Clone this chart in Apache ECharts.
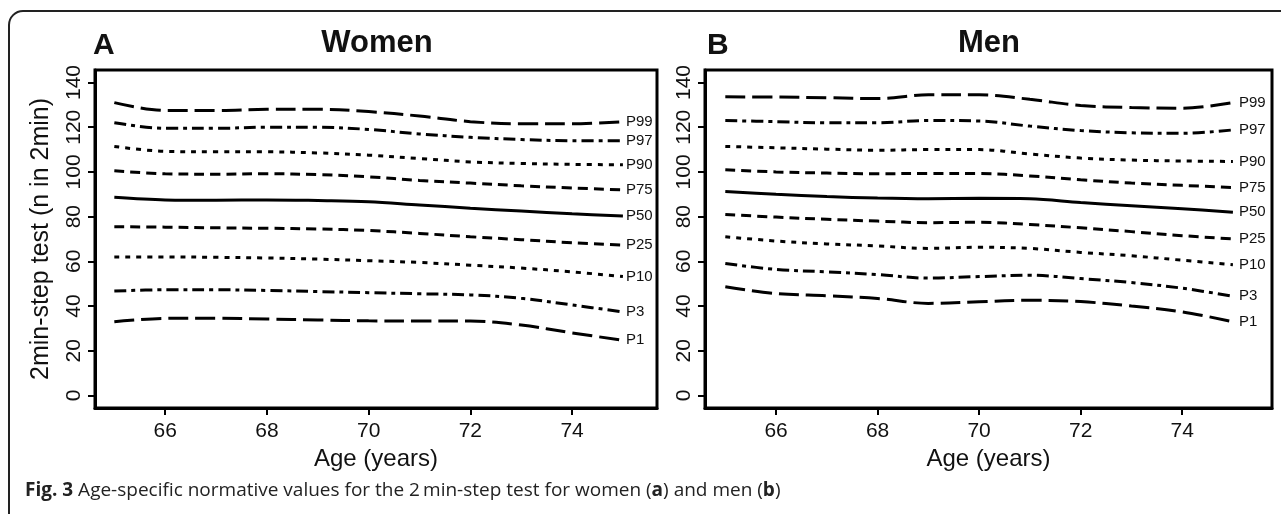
<!DOCTYPE html>
<html lang="en">
<head>
    <meta charset="UTF-8">
    <title>2min-step test normative values</title>
    <script src="https://cdn.jsdelivr.net/npm/echarts@6/dist/echarts.min.js"></script>
    <style>
        html, body { margin: 0; padding: 0; background: #fff; }
        #chart { width: 1281px; height: 514px; }
    </style>
</head>
<body>
<div id="chart"></div>
<script>
    // ages on the x axis
    var ages = [65, 66, 67, 68, 69, 70, 71, 72, 73, 74, 75];
    var pctNames = ['P99', 'P97', 'P90', 'P75', 'P50', 'P25', 'P10', 'P3', 'P1'];
    var xTicks = [66, 68, 70, 72, 74];
    var yTicks = [0, 20, 40, 60, 80, 100, 120, 140];

    // women, one row per percentile (same order as pctNames)
    var womenValues = [
        [131, 127.5, 127.5, 128, 128, 127, 125, 122.5, 121.5, 121.5, 122.5],
        [122, 119.5, 119.5, 120, 120, 119, 117, 115.5, 114.5, 114, 114],
        [111.4, 109.2, 109, 109, 108.5, 107.5, 106, 104.5, 103.8, 103.4, 103.2],
        [100.5, 99.2, 99, 99.2, 98.8, 97.8, 96.2, 95, 93.8, 92.8, 92],
        [88.7, 87.5, 87.3, 87.5, 87.2, 86.7, 85.2, 83.8, 82.5, 81.3, 80.3],
        [75.5, 75.3, 75, 74.8, 74.5, 73.8, 72.5, 71, 69.7, 68.3, 67.3],
        [62, 62, 61.8, 61.5, 61, 60.3, 59.5, 58.3, 57, 55.3, 53.2],
        [46.7, 47.3, 47.3, 47, 46.5, 46, 45.5, 45, 43.5, 40.5, 37.4],
        [33, 34.5, 34.6, 34.2, 33.8, 33.4, 33.3, 33.3, 31.5, 28, 24.7]
    ];

    // men
    var menValues = [
        [133.6, 133.5, 133.2, 132.8, 134.5, 134.5, 132.5, 129.7, 128.8, 128.5, 131],
        [123, 122.5, 122, 122, 123, 122.8, 120.5, 118.5, 117.5, 117.3, 118.8],
        [111.4, 110.8, 110.2, 109.7, 110, 110, 108, 106.2, 105.3, 104.9, 104.7],
        [101, 100, 99.5, 99.2, 99.3, 99.3, 98.2, 96.5, 95, 94, 93],
        [91.2, 90, 89, 88.3, 88, 88.2, 88, 86.3, 84.9, 83.5, 82],
        [81, 79.8, 78.8, 78, 77.3, 77.5, 76.5, 75, 73.3, 71.5, 70],
        [71, 69.1, 67.8, 66.9, 65.8, 66.3, 65.8, 64, 62.5, 60.5, 58.5],
        [59, 56.4, 55.3, 54.1, 52.5, 53.2, 53.8, 52.3, 50.5, 48, 44.4],
        [48.6, 45.6, 44.6, 43.4, 41.2, 41.9, 42.6, 42, 40, 37.4, 33]
    ];

    // line type per percentile (R style lty)
    var dashFor = {
        P99: [20, 7], P1: [20, 7],
        P97: [12, 5, 4, 5], P3: [12, 5, 4, 5],
        P90: [5, 6], P10: [5, 6],
        P75: [10, 6], P25: [10, 6],
        P50: 'solid'
    };

    var font = '"Liberation Sans", Arial, sans-serif';

    function makeX(idx, min, max) {
        return {
            type: 'value', gridIndex: idx, min: min, max: max,
            name: 'Age (years)', nameLocation: 'middle', nameGap: 38,
            nameTextStyle: {fontFamily: font, fontSize: 24, color: '#111'},
            axisLine: {show: true, onZero: false, lineStyle: {color: '#000', width: 3}},
            axisTick: {show: true, inside: false, length: 7, lineStyle: {color: '#000', width: 2}, customValues: xTicks},
            axisLabel: {fontFamily: font, fontSize: 21, color: '#111', margin: 13, customValues: xTicks},
            splitLine: {show: false}
        };
    }

    function makeY(idx, withName) {
        return {
            type: 'value', gridIndex: idx, min: -5.6, max: 145.6,
            name: withName ? '2min-step test (n in 2min)' : '',
            nameLocation: 'middle', nameGap: 41,
            nameTextStyle: {fontFamily: font, fontSize: 25, color: '#111'},
            axisLine: {show: true, onZero: false, lineStyle: {color: '#000', width: 3}},
            axisTick: {show: true, inside: false, length: 7, lineStyle: {color: '#000', width: 2}, customValues: yTicks},
            axisLabel: {fontFamily: font, fontSize: 21, color: '#111', rotate: 90, margin: 10, customValues: yTicks},
            splitLine: {show: false}
        };
    }

    function makeSeries(rows, idx, labelGap) {
        return rows.map(function (row, i) {
            var name = pctNames[i];
            return {
                name: name,
                type: 'line',
                xAxisIndex: idx, yAxisIndex: idx,
                data: ages.map(function (a, j) { return [a, row[j]]; }),
                smooth: 0.35,
                showSymbol: false,
                lineStyle: {color: '#000', width: 3, type: dashFor[name]},
                endLabel: {
                    show: true, formatter: '{a}', distance: labelGap,
                    fontFamily: font, fontSize: 15, color: '#111'
                },
                emphasis: {disabled: true}
            };
        });
    }

    var option = {
        animation: false,
        backgroundColor: '#fff',
        grid: [
            {left: 95, top: 70, width: 562, height: 338, show: true, borderColor: '#000', borderWidth: 3},
            {left: 705, top: 70, width: 567, height: 338, show: true, borderColor: '#000', borderWidth: 3}
        ],
        xAxis: [makeX(0, 64.62, 75.67), makeX(1, 64.6, 75.77)],
        yAxis: [makeY(0, true), makeY(1, false)],
        series: makeSeries(womenValues, 0, 3).concat(makeSeries(menValues, 1, 6)),
        graphic: [
            {
                type: 'rect', silent: true,
                shape: {x: 9, y: 11, width: 1300, height: 540, r: [14, 0, 0, 0]},
                style: {fill: 'none', stroke: '#222', lineWidth: 2}
            },
            {type: 'text', left: 93, top: 31, style: {text: 'A', font: 'bold 30px ' + font, fill: '#111'}},
            {type: 'text', x: 377, y: 43, style: {text: 'Women', font: 'bold 31px ' + font, fill: '#111', align: 'center', verticalAlign: 'middle'}},
            {type: 'text', left: 707, top: 31, style: {text: 'B', font: 'bold 30px ' + font, fill: '#111'}},
            {type: 'text', x: 989, y: 43, style: {text: 'Men', font: 'bold 31px ' + font, fill: '#111', align: 'center', verticalAlign: 'middle'}},
            {
                type: 'text', x: 25, y: 491,
                style: {
                    text: '{b|Fig. 3} Age-specific normative values for the 2\u2009min-step test for women ({b|a}) and men ({b|b})',
                    verticalAlign: 'middle',
                    font: '19px "Open Sans", sans-serif', fill: '#222',
                    rich: {
                        b: {fontFamily: '"Open Sans", sans-serif', fontSize: 19, fontWeight: 'bold', fill: '#222'}
                    }
                }
            }
        ]
    };

    var myChart = echarts.init(document.getElementById('chart'));
    myChart.setOption(option);
</script>
</body>
</html>
